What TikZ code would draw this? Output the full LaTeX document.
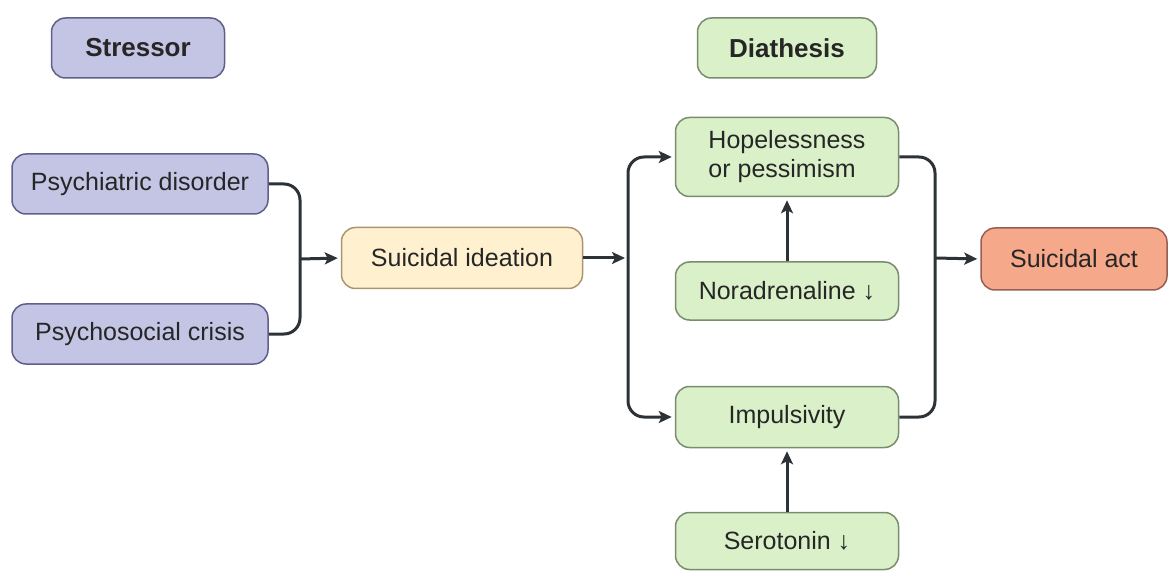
\documentclass[tikz,border=0pt]{standalone}
\usepackage{fontspec}
\setmainfont{Liberation Sans}
\usetikzlibrary{arrows.meta}
\definecolor{stressfill}{RGB}{196,196,228}
\definecolor{stressline}{RGB}{95,95,140}
\definecolor{ideafill}{RGB}{255,241,208}
\definecolor{idealine}{RGB}{170,150,110}
\definecolor{diafill}{RGB}{218,240,200}
\definecolor{dialine}{RGB}{120,140,110}
\definecolor{actfill}{RGB}{245,168,138}
\definecolor{actline}{RGB}{150,95,85}
\definecolor{inkline}{RGB}{45,50,55}

\begin{document}
\begin{tikzpicture}[x=1pt,y=-1pt,
  box/.style={rounded corners=14pt, line width=1.5pt, text=black!85, inner sep=0pt,
    font=\fontsize{25}{29}\selectfont, minimum height=60pt},
  head/.style={font=\bfseries\fontsize{26}{30}\selectfont},
  stressbox/.style={box, draw=stressline, fill=stressfill},
  ideabox/.style={box, draw=idealine, fill=ideafill},
  diabox/.style={box, draw=dialine, fill=diafill, minimum width=223pt, minimum height=58pt},
  actbox/.style={box, draw=actline, fill=actfill},
  arr/.style={-{Stealth[length=13pt,width=12pt,inset=3pt]}, line width=3pt, draw=inkline, shorten >=3pt},
  elbow/.style={rounded corners=16pt, line width=3pt, draw=inkline}]
\useasboundingbox (0,0) rectangle (1168,572);

% headers
\node[stressbox, head, minimum width=173pt] (stress) at (138,48) {Stressor};
\node[diabox, head, minimum width=179pt, minimum height=60pt] (diath) at (787,48) {Diathesis};

% stressors
\node[stressbox, minimum width=256pt] (pd) at (140,184) {Psychiatric disorder};
\node[stressbox, minimum width=256pt] (pc) at (140,334) {Psychosocial crisis};
\node[ideabox, minimum width=241pt, minimum height=61pt] (si) at (462,258) {Suicidal ideation};

% diathesis
\node[diabox, align=left, minimum height=79pt] (hp) at (787,157) {Hopelessness\\or pessimism};
\node[diabox] (nd) at (787,291) {Noradrenaline ↓};
\node[diabox, minimum height=61pt] (im) at (787,417) {Impulsivity};
\node[diabox, minimum height=57pt] (se) at (787,541) {Serotonin ↓};
\node[actbox, minimum width=186pt, minimum height=62pt] (sa) at (1074,259) {Suicidal act};

\coordinate (jl) at (300,259);
\coordinate (jr) at (628,258);
\coordinate (jo) at (935,258);

\draw[elbow] (pd.east) -| (jl) |- (pc.east);
\draw[arr] (jl) -- (si.west);
\draw[arr] (si.east) -- (jr);
\draw[elbow, arr] (jr) |- (hp.west);
\draw[elbow, arr] (jr) |- (im.west);
\draw[arr] (nd.north) -- (hp.south);
\draw[arr] (se.north) -- (im.south);
\draw[elbow] (hp.east) -| (jo) |- (im.east);
\draw[arr] (jo) -- (sa.west);
\end{tikzpicture}
\end{document}
